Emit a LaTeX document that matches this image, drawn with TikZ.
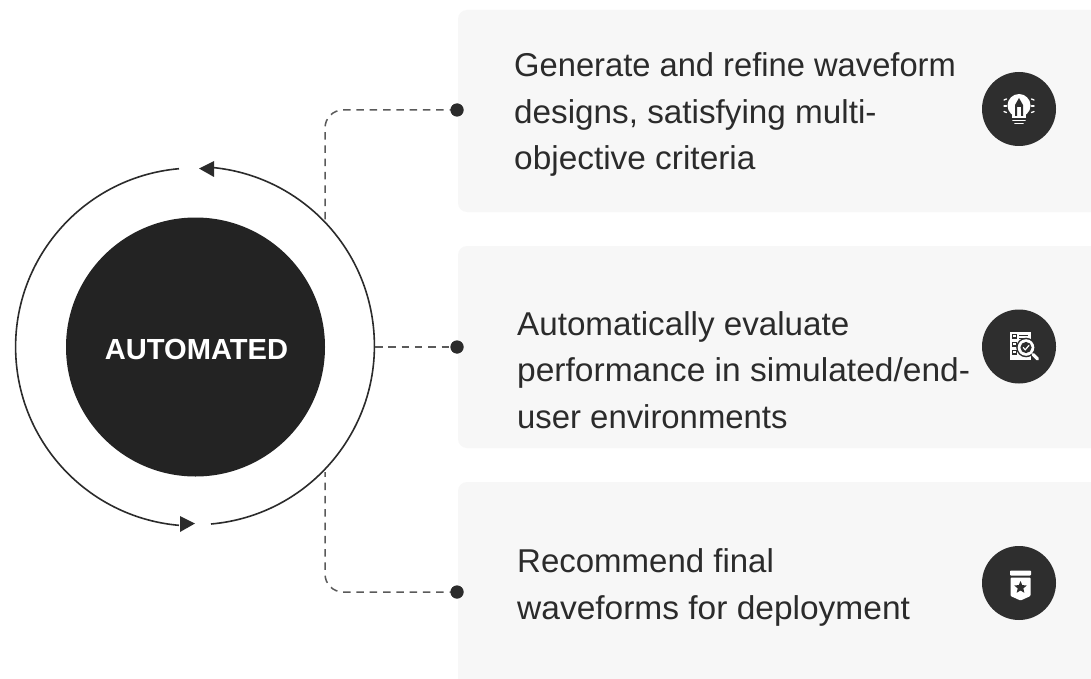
\documentclass[tikz,border=0pt]{standalone}
\usepackage{fontspec}
\usepackage{graphicx}
\setmainfont{Liberation Sans}
\usetikzlibrary{shapes.geometric}
\definecolor{ink}{HTML}{2B2B2B}
\definecolor{hubc}{HTML}{232323}
\definecolor{badgec}{HTML}{2E2E2E}
\definecolor{cardbg}{HTML}{F7F7F7}
\definecolor{dashc}{HTML}{5A5A5A}
\newcommand{\fitw}[2]{\scalebox{#1}[1]{#2}}
\tikzset{
  card/.style={fill=cardbg,rounded corners=9pt,draw=none},
  body/.style={anchor=base west,align=left,inner sep=0pt,font=\fontsize{33}{46.5}\selectfont,text=ink},
  dot/.style={circle,fill=ink,minimum size=13pt,inner sep=0pt},
  dashline/.style={draw=dashc,line width=1.5pt,dash pattern=on 7.5pt off 5.8pt,rounded corners=18pt},
  ring/.style={draw=ink,line width=1.6pt},
  tip/.style={fill=ink,draw=none},
  badge/.style={circle,fill=badgec,minimum size=74pt,inner sep=0pt},
  glyph/.style={fill=white,draw=none},
  gline/.style={draw=white,line width=1.6pt,line cap=round},
  darkline/.style={draw=badgec,line width=1.4pt},
}
\begin{document}
\begin{tikzpicture}[x=1pt,y=-1pt]
\useasboundingbox (0,0) rectangle (1091,679);
\fill[white] (0,0) rectangle (1091,679);
% cards
\fill[card] (458,10) rectangle (1110,212);
\fill[card] (458,246) rectangle (1110,448);
\fill[card] (458,482) rectangle (1110,700);
% ring
\draw[ring] (211,524) arc[start angle=85,end angle=-85,radius=179];
\draw[ring] (179,168.7) arc[start angle=-95,end angle=-265,radius=179];
\fill[tip] (199,168.5) -- (214,161) -- (214,177) -- cycle;
\fill[tip] (195,523.5) -- (180,516) -- (180,532) -- cycle;
% hub
\node[circle,fill=hubc,minimum size=259pt,inner sep=0pt] (hub) at (195.5,347) {};
\node[anchor=base,inner sep=0pt,text=white,font=\bfseries\fontsize{29.1}{34}\selectfont] (hublabel) at (196.5,359.3) {AUTOMATED};
% dots and connectors
\node[dot] (d1) at (457,110) {};
\node[dot] (d2) at (457,347) {};
\node[dot] (d3) at (457,592) {};
\coordinate (c1) at (325,222);
\coordinate (c2) at (375,347);
\coordinate (c3) at (325,472);
\draw[dashline] (d1.center) -- (325,110) -- (c1);
\draw[dashline] (c2) -- (d2.center);
\draw[dashline] (d3.center) -- (325,592) -- (c3);
\node[dot] at (d1) {};
\node[dot] at (d2) {};
\node[dot] at (d3) {};
% texts
\node[body] (t1) at (514,76.7) {\fitw{0.991}{Generate and refine waveform}};
\node[body] (t1b) at (514,123.3) {\fitw{1.008}{designs, satisfying multi-}};
\node[body] (t1c) at (514,169.5) {\fitw{1.012}{objective criteria}};
\node[body] (t2) at (517,335) {\fitw{1.006}{Automatically evaluate}};
\node[body] (t2b) at (517,381.7) {\fitw{1.016}{performance in simulated/end-}};
\node[body] (t2c) at (517,428) {\fitw{0.996}{user environments}};
\node[body] (t3) at (517,572) {Recommend final};
\node[body] (t3b) at (517,619) {\fitw{1.015}{waveforms for deployment}};
% badges
\node[badge] (b1) at (1019,109) {};
\node[badge] (b2) at (1019,346.5) {};
\node[badge] (b3) at (1019,583) {};
% bulb glyph
\fill[glyph] (1019,105.5) circle[radius=11.5];
\fill[glyph] (1012,112) rectangle (1026,118);
\draw[gline] (1013,120.5) -- (1025,120.5);
\draw[gline] (1015,123.5) -- (1023,123.5);
\fill[badgec] (1015,116) -- (1015,105) -- (1019,98) -- (1023,105) -- (1023,116) -- (1021,116) -- (1021,107) -- (1017,107) -- (1017,116) -- cycle;
\foreach \yy/\dd in {100/-1.5,106/0,111.5/1.5}{
  \draw[gline,line width=1.3pt] (1004,\yy) -- ++(2.5,\dd*0.7);
  \draw[gline,line width=1.3pt] (1034,\yy) -- ++(-2.5,\dd*0.7);
}
% checklist glyph
\fill[glyph] (1010,332) rectangle (1031,360);
\foreach \yy in {336,344,352}{
  \draw[badgec,line width=1.2pt] (1012.5,\yy-1.5) rectangle (1016.5,\yy+2);
}
\draw[darkline] (1019,335.5) -- (1028,335.5);
\draw[darkline] (1019,338.5) -- (1026,338.5);
\fill[badgec] (1026,347.5) circle[radius=9.8];
\fill[glyph] (1026,347.5) circle[radius=8.3];
\fill[badgec] (1026,347.5) circle[radius=5.6];
\draw[gline,line width=1.2pt] (1023.2,347.5) -- (1025.2,349.8) -- (1029,345.4);
\draw[badgec,line width=5.5pt] (1033,355) -- (1038,360);
\draw[gline,line width=3.2pt] (1033,354.5) -- (1037.5,359);
% shield glyph
\fill[glyph,rounded corners=0.8pt] (1010,570.5) rectangle (1031,575.5);
\fill[glyph,rounded corners=1pt] (1010.5,577.5) -- (1030.5,577.5) -- (1030.5,596) -- (1020.5,600.5) -- (1010.5,596) -- cycle;
\node[star,star points=5,star point ratio=2.2,fill=badgec,minimum size=13pt,inner sep=0pt] (st) at (1020.5,587.5) {};
\end{tikzpicture}
\end{document}
